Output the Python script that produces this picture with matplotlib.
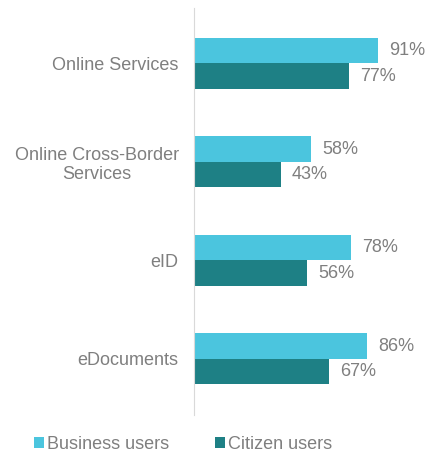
import matplotlib.pyplot as plt
import numpy as np

plt.rcParams["font.family"] = ["Liberation Sans", "DejaVu Sans"]

categories = ["Online Services", "Online Cross-Border\nServices", "eID", "eDocuments"]
business_users = [91, 58, 78, 86]
citizen_users = [77, 43, 56, 67]

BUSINESS_COLOR = "#4BC5DE"
CITIZEN_COLOR = "#1E8085"
TEXT_COLOR = "#7F7F7F"
FONT_SIZE = 13

fig = plt.figure(figsize=(4.3, 4.54), dpi=100)
ax = fig.add_axes([0.451, 0.086, 0.549, 0.896])

y = np.arange(len(categories))
height = 0.26

bars_b = ax.barh(y - height / 2, business_users, height=height, color=BUSINESS_COLOR,
                 label="Business users")
bars_c = ax.barh(y + height / 2, citizen_users, height=height, color=CITIZEN_COLOR,
                 label="Citizen users")

for bars in (bars_b, bars_c):
    for bar in bars:
        ax.text(bar.get_width() + 5.5, bar.get_y() + bar.get_height() / 2,
                f"{int(bar.get_width())}%", va="center", ha="left",
                color=TEXT_COLOR, fontsize=FONT_SIZE)

ax.set_xlim(0, 117)
ax.set_ylim(len(categories) - 0.43, -0.56)
ax.set_yticks(y, labels=categories)
ax.tick_params(axis="y", length=0, pad=11, labelsize=FONT_SIZE, labelcolor=TEXT_COLOR)
ax.set_xticks([])
for side in ("top", "right", "bottom"):
    ax.spines[side].set_visible(False)
ax.spines["left"].set_color("#D9D9D9")
for label in ax.get_yticklabels():
    label.set_multialignment("center")

fig.legend(loc="center left", bbox_to_anchor=(34 / 430, 0.022), ncol=2, frameon=False,
           fontsize=FONT_SIZE, labelcolor=TEXT_COLOR, handlelength=0.55, handleheight=0.55,
           handletextpad=0.17, columnspacing=2.55, borderpad=0, borderaxespad=0)

fig.savefig("out.png", dpi=100)
